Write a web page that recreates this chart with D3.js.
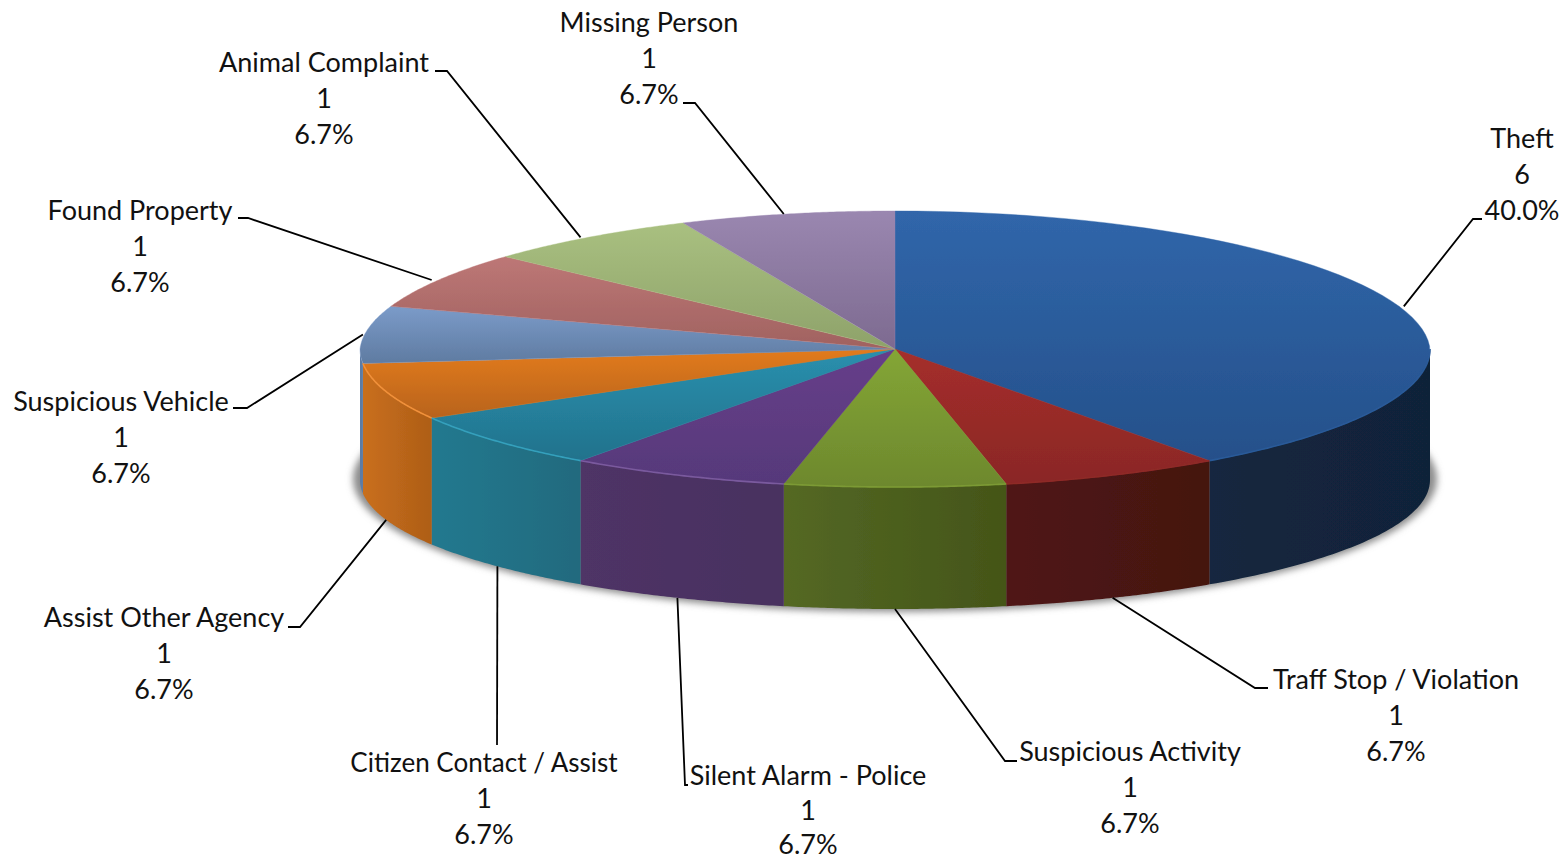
<!DOCTYPE html>
<html>
<head>
<meta charset="utf-8">
<script src="https://cdn.jsdelivr.net/npm/d3@7"></script>
<style>
html, body { margin: 0; background: #fff; }
svg { display: block; }
text { font-family: Lato, "Open Sans", sans-serif; font-size: 27px; fill: #111; text-anchor: middle; }
</style>
</head>
<body>
<div id="chart"></div>
<script>
// DATA
const categories = ["Theft", "Traff Stop / Violation", "Suspicious Activity", "Silent Alarm - Police",
    "Citizen Contact / Assist", "Assist Other Agency", "Suspicious Vehicle", "Found Property",
    "Animal Complaint", "Missing Person"];
const counts = [6, 1, 1, 1, 1, 1, 1, 1, 1, 1];

// COLOURS, same order as the categories
const topLight = ["#3066aa", "#a52e2b", "#84a636", "#673e8a", "#2a90ae", "#e27b1d", "#7b9bc9", "#bd7776", "#a9c080", "#9a87b0"];
const topDark = ["#25508a", "#8a2725", "#6d882d", "#56397a", "#21728c", "#b8631a", "#5f7ba1", "#a06260", "#8ea26a", "#7d6a90"];
const sideLeft = ["#13263f", "#501614", "#546824", "#4f3466", "#24798f", "#c96f1d", "#5b7ba5", "#888", "#888", "#888"];
const sideRight = ["#112339", "#441210", "#445518", "#483060", "#206a7e", "#ae5e17", "#5b7ba5", "#888", "#888", "#888"];
const rimColor = ["#2a5a98", "#8e2a28", "#7c9a34", "#7a5a9e", "#34a0bc", "#f0903a", "none", "none", "none", "none"];

// LABEL PLACEMENT: text centre, first baseline, leader elbow and leader end
const labelPlace = [
    { x: 1522, y: 148, elbow: [1473, 219], end: [1482, 219] },
    { x: 1396, y: 689, elbow: [1255, 688], end: [1268, 688] },
    { x: 1130, y: 761, elbow: [1005, 761], end: [1017, 761] },
    { x: 808, y: 785, elbow: [685, 785], end: [688, 785], gap: 34.5 }, // tight so it stays inside the page
    { x: 484, y: 772, elbow: [497, 745], end: [497, 745], size: 26 },
    { x: 164, y: 627, elbow: [300, 627], end: [288, 627] },
    { x: 121, y: 411, elbow: [247, 408], end: [233, 408] },
    { x: 140, y: 220, elbow: [248, 218], end: [238, 218] },
    { x: 324, y: 72, elbow: [447, 71], end: [435, 71] },
    { x: 649, y: 32, elbow: [695, 103], end: [683, 103] }
];

// 1. SETUP
const width = 1567;
const height = 861;
const cx = 895;
const topY = 349;
const rx = 535;
const ry = 138;
const bottomY = 480;
const bottomRy = 129;
const backNarrowing = 0.03; // perspective: the far edge of the disc is a bit narrower

const svg = d3.select("#chart")
    .append("svg")
    .attr("width", width)
    .attr("height", height)
    .attr("viewBox", [0, 0, width, height]);

const defs = svg.append("defs");
defs.append("filter").attr("id", "shadow")
    .attr("x", "-5%").attr("y", "-10%").attr("width", "110%").attr("height", "120%")
    .append("feGaussianBlur").attr("stdDeviation", 3.5);
defs.append("filter").attr("id", "soft")
    .attr("x", "-2%").attr("y", "-2%").attr("width", "104%").attr("height", "104%")
    .append("feGaussianBlur").attr("stdDeviation", 0.5);

function gradient(id, x2, y2, c1, c2) {
    const g = defs.append("linearGradient").attr("id", id)
        .attr("x1", 0).attr("y1", 0).attr("x2", x2).attr("y2", y2);
    g.append("stop").attr("offset", 0).attr("stop-color", c1);
    g.append("stop").attr("offset", 1).attr("stop-color", c2);
}
categories.forEach((c, i) => {
    gradient("top" + i, 0, 1, topLight[i], topDark[i]);
    gradient("side" + i, 1, 0, sideLeft[i], sideRight[i]);
});

// 2. PIE
const arcs = d3.pie().sort(null)(counts);
const total = d3.sum(counts);
const pct = d3.format(".1%");

const xAt = a => cx + rx * (1 - backNarrowing * Math.max(0, Math.cos(a))) * Math.sin(a);
const yTop = a => topY - ry * Math.cos(a);
const yBottom = a => bottomY - bottomRy * Math.cos(a);

const chart = svg.append("g");

// Shadow under the disc
chart.append("ellipse")
    .attr("cx", cx).attr("cy", bottomY - 1)
    .attr("rx", rx + 7).attr("ry", bottomRy + 4)
    .attr("fill", "#8c8c8c")
    .attr("filter", "url(#shadow)");

const pie = chart.append("g").attr("filter", "url(#soft)");

// Front walls, only the part of each slice on the near half
const wall = d3.area().x(xAt).y0(yTop).y1(yBottom);
const sampleAngles = (a0, a1) => d3.range(0, 61).map(k => a0 + (a1 - a0) * k / 60);

arcs.forEach((d, i) => {
    const a0 = Math.max(d.startAngle, Math.PI / 2);
    const a1 = Math.min(d.endAngle, Math.PI * 1.5);
    if (a1 <= a0) return;
    pie.append("path")
        .attr("d", wall(sampleAngles(a0, a1)))
        .attr("fill", `url(#side${i})`);
});

// Top surface
const edge = d3.line();
pie.append("g").selectAll("path")
    .data(arcs)
    .join("path")
    .attr("d", d => edge([[cx, topY], ...sampleAngles(d.startAngle, d.endAngle).map(a => [xAt(a), yTop(a)])]) + "Z")
    .attr("fill", (d, i) => `url(#top${i})`)
    .attr("stroke", (d, i) => topLight[i])
    .attr("stroke-width", 0.4);

// Bright bevel along the near edge
const rim = d3.line().x(xAt).y(yTop);
arcs.forEach((d, i) => {
    if (rimColor[i] === "none") return;
    const a0 = Math.max(d.startAngle, Math.PI / 2);
    const a1 = Math.min(d.endAngle, Math.PI * 1.5);
    pie.append("path")
        .attr("d", rim(sampleAngles(a0, a1)))
        .attr("fill", "none")
        .attr("stroke", rimColor[i])
        .attr("stroke-width", 1.6);
});

// 3. LEADERS AND LABELS
const leader = d3.line();
arcs.forEach((d, i) => {
    const mid = (d.startAngle + d.endAngle) / 2;
    const front = mid > Math.PI / 2 && mid < Math.PI * 1.5;
    // leaders start on the plain ellipse, without the far edge narrowing
    const start = [cx + rx * Math.sin(mid), front ? yBottom(mid) : yTop(mid)];
    const p = labelPlace[i];
    chart.append("path")
        .attr("d", leader([start, p.elbow, p.end]))
        .attr("fill", "none")
        .attr("stroke", "#000")
        .attr("stroke-width", 1.8);

    const t = chart.append("text");
    [categories[i], counts[i], pct(counts[i] / total)].forEach((line, k) => {
        const ts = t.append("tspan").attr("x", p.x).attr("y", p.y + k * (p.gap || 36)).text(line);
        if (k === 0 && p.size) ts.style("font-size", p.size + "px");
    });
});
</script>
</body>
</html>
